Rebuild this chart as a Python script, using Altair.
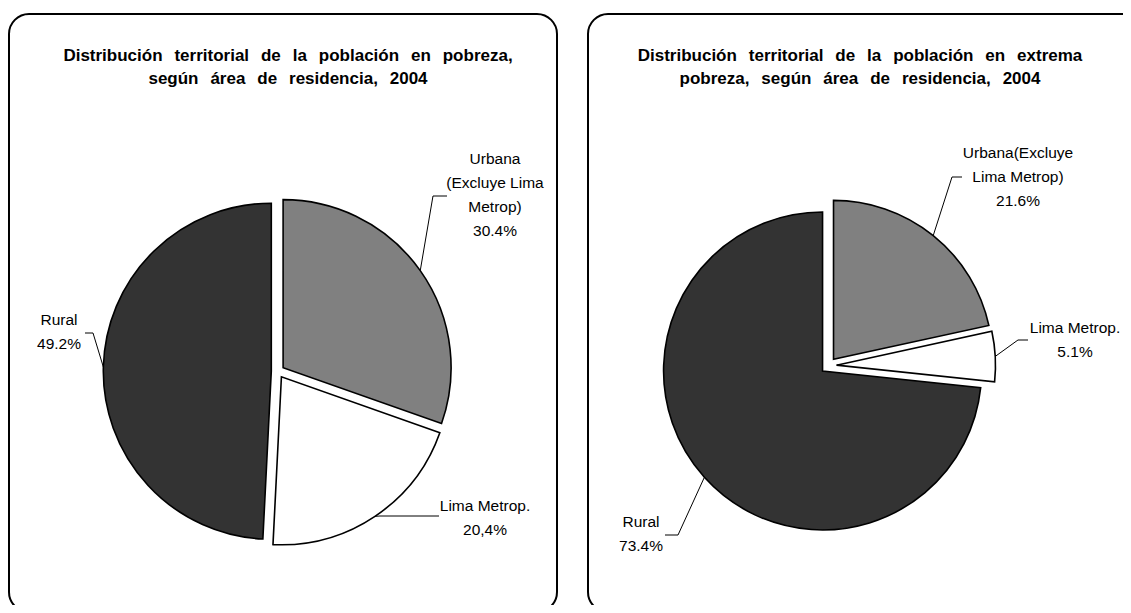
import math
import altair as alt
import pandas as pd

# ---------------- data ----------------
CATEGORIES = ["Urbana (Excluye Lima Metrop)", "Lima Metrop.", "Rural"]
POBREZA = [30.4, 20.4, 49.2]
EXTREMA = [21.6, 5.1, 73.4]
LABELS_POBREZA = ["Urbana\n(Excluye Lima\nMetrop)\n30.4%", "Lima Metrop.\n20,4%", "Rural\n49.2%"]
LABELS_EXTREMA = ["Urbana(Excluye\nLima Metrop)\n21.6%", "Lima Metrop.\n5.1%", "Rural\n73.4%"]
TITLE_POBREZA = ["Distribución territorial de la población en pobreza,",
                 "según área de residencia, 2004"]
TITLE_EXTREMA = ["Distribución territorial de la población en extrema",
                 "pobreza, según área de residencia, 2004"]

# ---------------- style / layout ----------------
COLORS = ["#808080", "#ffffff", "#333333"]
W, H = 1115, 597
LABEL_FONT = "Liberation Sans, Arial"
TITLE_FONT = "Liberation Sans, Arial"
WORD_SEP = "\u2002\u2009"

PANELS = [
    dict(values=POBREZA, labels=LABELS_POBREZA, title=TITLE_POBREZA,
         box=(1, 549), cx=269.8, cy=363.4, r=168, explode=6.5, title_x=280,
         elbows=[(425, 188), (372, 508), (85, 325)],
         ends=[(439, 188), (431, 508), (77, 325)],
         texts=[(487, 150.5), (477, 498), (51, 312)]),
    dict(values=EXTREMA, labels=LABELS_EXTREMA, title=TITLE_EXTREMA,
         box=(580, 1160), cx=820.5, cy=357.6, r=159, explode=8, title_x=852,
         elbows=[(944, 169), (1010, 332), (670, 527)],
         ends=[(954, 169), (1020, 332), (657, 527)],
         texts=[(1010, 145), (1067, 320), (633, 514)]),
]

layers = []
for p in PANELS:
    box = alt.Chart(pd.DataFrame({"b": [0]})).mark_rect(
        cornerRadius=20, fill="white", stroke="black", strokeWidth=2
    ).encode(x=alt.value(p["box"][0]), x2=alt.value(p["box"][1]),
             y=alt.value(6), y2=alt.value(604))
    layers.append(box)

for p in PANELS:
    df = pd.DataFrame({
        "cat": CATEGORIES,
        "val": p["values"],
        "idx": list(range(len(CATEGORIES))),
        "label": p["labels"],
        "ex": [e[0] for e in p["elbows"]],
        "ey": [e[1] for e in p["elbows"]],
        "endx": [e[0] for e in p["ends"]],
        "endy": [e[1] for e in p["ends"]],
        "tx": [t[0] for t in p["texts"]],
        "ty": [t[1] for t in p["texts"]],
    })
    cx, cy, r, d = p["cx"], p["cy"], p["r"], p["explode"]
    base = (alt.Chart(df)
            .transform_joinaggregate(total="sum(val)")
            .transform_window(cum="sum(val)", sort=[alt.SortField("idx")])
            .transform_calculate(
                f0="(datum.cum - datum.val) / datum.total",
                f1="datum.cum / datum.total",
                mid="PI * (2 * datum.cum - datum.val) / datum.total",
                px=f"{cx} + {d} * sin(datum.mid)",
                py=f"{cy} - {d} * cos(datum.mid)",
                lx=f"{cx} + {r + d} * sin(datum.mid)",
                ly=f"{cy} - {r + d} * cos(datum.mid)",
            ))
    arcs = base.mark_arc(radius=r, stroke="black", strokeWidth=1.6).encode(
        theta=alt.Theta("f0:Q", scale=alt.Scale(domain=[0, 1], range=[0, 2 * math.pi])),
        theta2="f1:Q",
        x=alt.X("px:Q", scale=None),
        y=alt.Y("py:Q", scale=None),
        fill=alt.Fill("cat:N", scale=alt.Scale(domain=CATEGORIES, range=COLORS), legend=None),
    )
    seg1 = base.mark_rule(color="black", strokeWidth=1).encode(
        x=alt.X("lx:Q", scale=None), y=alt.Y("ly:Q", scale=None),
        x2="ex:Q", y2="ey:Q")
    seg2 = base.mark_rule(color="black", strokeWidth=1).encode(
        x=alt.X("ex:Q", scale=None), y=alt.Y("ey:Q", scale=None),
        x2="endx:Q", y2="endy:Q")
    txt = base.mark_text(font=LABEL_FONT, fontSize=15.5, lineBreak="\n", lineHeight=24,
                         align="center", baseline="middle", color="black").encode(
        x=alt.X("tx:Q", scale=None), y=alt.Y("ty:Q", scale=None), text="label:N")
    tdf = pd.DataFrame({"t": ["\n".join(s.replace(" ", WORD_SEP) for s in p["title"])]})
    title = alt.Chart(tdf).mark_text(font=TITLE_FONT, fontSize=17, fontWeight="bold",
                                     lineBreak="\n", lineHeight=23, align="center",
                                     baseline="alphabetic", color="black").encode(
        x=alt.value(p["title_x"]), y=alt.value(52.5), text="t:N")
    layers += [arcs, seg1, seg2, txt, title]

chart = alt.layer(*layers).properties(
    width=W, height=H, padding=0, autosize=alt.AutoSizeParams(type="none")
).configure_view(stroke=None)

chart.save("out.html", embed_options={"renderer": "svg", "actions": False})
